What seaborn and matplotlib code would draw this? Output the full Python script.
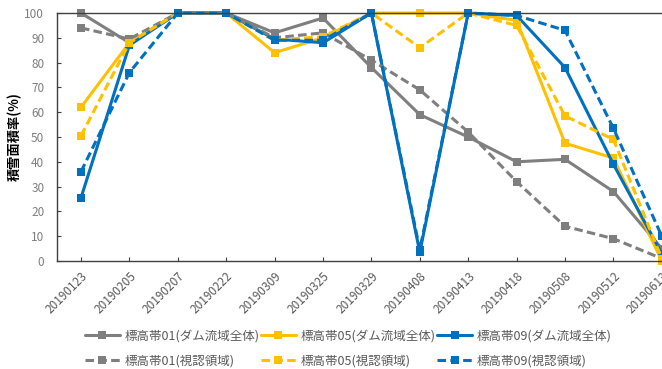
import matplotlib
matplotlib.use("Agg")
import matplotlib.pyplot as plt
import seaborn as sns
import pandas as pd

dates = ["20190123", "20190205", "20190207", "20190222", "20190309", "20190325",
         "20190329", "20190408", "20190413", "20190418", "20190508", "20190512", "20190613"]

band01_all = [100, 88, 100, 100, 92, 98, 78, 59, 50, 40, 41, 28, 5]
band05_all = [62, 88, 100, 100, 84, 90, 100, 100, 100, 97, 47.5, 41.5, 0]
band09_all = [25.5, 87, 100, 100, 89.5, 88, 100, 3.5, 100, 99, 78, 39, 3]
band01_vis = [94, 89.5, 100, 100, 90, 92, 81, 69, 52, 32, 14, 9, 1]
band05_vis = [50.5, 88, 100, 100, 89, 90.5, 100, 86, 100, 95, 58.5, 49, 1]
band09_vis = [36, 76, 100, 100, 89, 89, 100, 4.5, 100, 99, 93, 53.5, 10]

labels = ["標高帯01(ダム流域全体)", "標高帯05(ダム流域全体)", "標高帯09(ダム流域全体)",
          "標高帯01(視認領域)", "標高帯05(視認領域)", "標高帯09(視認領域)"]

sns.set_theme(style="white")
plt.rcParams["font.family"] = ["Noto Sans CJK JP", "DejaVu Sans"]

GRAY, YELLOW, BLUE = "#7f7f7f", "#ffc000", "#0070c0"

series = [
    (band01_all, GRAY, "-"), (band05_all, YELLOW, "-"), (band09_all, BLUE, "-"),
    (band01_vis, GRAY, "--"), (band05_vis, YELLOW, "--"), (band09_vis, BLUE, "--"),
]

fig = plt.figure(figsize=(6.62, 3.69), dpi=100)
ax = fig.add_axes([56.8 / 662, 108 / 369, 629.2 / 662, 248 / 369])

x = list(range(len(dates)))
handles = []
for (vals, color, ls), lab in zip(series, labels):
    df = pd.DataFrame({"x": x, "y": vals})
    sns.lineplot(data=df, x="x", y="y", ax=ax, color=color, linewidth=2.2,
                 marker="s", markersize=6, markeredgewidth=0, label=lab,
                 legend=False)
    line = ax.lines[-1]
    line.set_linestyle(ls)
    if ls == "--":
        line.set_dashes((2.8, 1.4))
    line.set_clip_on(False)
    handles.append(line)

ax.set_xlim(-0.5, len(dates) - 0.5)
ax.set_ylim(0, 100)
ax.set_yticks(range(0, 101, 10))
ax.set_xticks(x)
ax.set_xticklabels(dates, rotation=45, ha="right", rotation_mode="anchor")
ax.tick_params(axis="y", labelsize=8.5, labelcolor="#7f7f7f", length=3,
               direction="in", color="#404040", width=0.8, pad=9, left=True)
ax.tick_params(axis="x", labelsize=8.5, labelcolor="#595959", length=3,
               direction="in", color="#404040", width=0.8, pad=6, bottom=True)
ax.set_xlabel("")
ax.set_ylabel("積雪面積率(%)", fontsize=9.5, fontweight="bold", color="black", labelpad=2)

for side in ["left", "bottom", "top"]:
    ax.spines[side].set_color("#404040")
    ax.spines[side].set_linewidth(1.0)
ax.spines["right"].set_visible(False)

order = [0, 3, 1, 4, 2, 5]
leg = fig.legend([handles[i] for i in order], [labels[i] for i in order],
                 ncol=3, loc="center", bbox_to_anchor=(0.526, 0.055),
                 frameon=False, fontsize=9, handlelength=2.8, handletextpad=0.4,
                 columnspacing=0.1, labelspacing=0.95, labelcolor="#595959")

fig.savefig("out.png", dpi=100)
